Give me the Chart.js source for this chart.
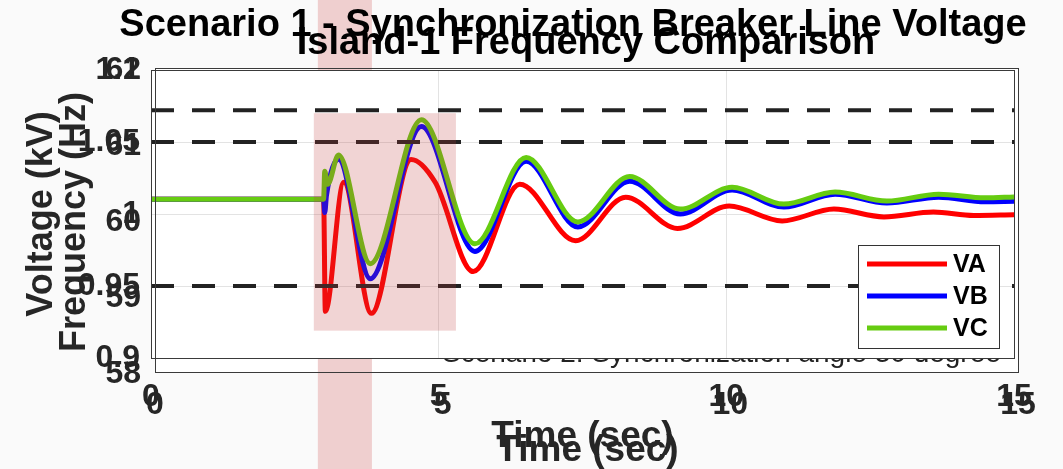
<!DOCTYPE html>
<html>
<head>
<meta charset="utf-8">
<script src="https://cdn.jsdelivr.net/npm/chart.js@4.4.1/dist/chart.umd.min.js"></script>
<style>
  html, body { margin: 0; padding: 0; background: #fafafa; }
  #wrap { width: 1063px; height: 469px; }
</style>
</head>
<body>
<div id="wrap"><canvas id="voltChart" width="1063" height="469"></canvas></div>
<script>
// ==========================
// DATA
// ==========================
const titleFront = 'Scenario 1 - Synchronization Breaker Line Voltage';
const titleBack = 'Island-1 Frequency Comparison';
const hiddenNote = 'Scenario 2: Synchronization angle 30 degree';

const timeVA = [0, 3.0, 3.03, 3.35, 3.83, 4.52, 4.94, 5.6, 6.41, 7.38, 8.25, 9.15, 10.05, 10.97, 11.87, 12.74, 13.6, 14.3, 15];
const voltVA = [1.0103, 1.0103, 0.9324, 1.022, 0.931, 1.0379, 1.022, 0.96, 1.0207, 0.9814, 1.0117, 0.99, 1.0055, 0.9952, 1.0034, 0.998, 1.0014, 0.999, 0.9995];

const timeVB = [0, 3.0, 3.02, 3.05, 3.26, 3.81, 4.70, 5.63, 6.52, 7.42, 8.32, 9.2, 10.1, 11.0, 11.89, 12.79, 13.69, 14.5, 15];
const voltVB = [1.0103, 1.0103, 1.001, 1.013, 1.038, 0.955, 1.0607, 0.974, 1.0366, 0.991, 1.0228, 1.0, 1.0166, 1.0048, 1.0138, 1.0076, 1.0117, 1.0085, 1.0088];

const timeVC = [0, 3.0, 3.02, 3.07, 3.26, 3.81, 4.70, 5.63, 6.52, 7.42, 8.32, 9.2, 10.1, 11.0, 11.89, 12.79, 13.69, 14.5, 15];
const voltVC = [1.0103, 1.0103, 1.0297, 1.0207, 1.041, 0.9655, 1.0655, 0.9793, 1.0393, 0.9945, 1.026, 1.0034, 1.0186, 1.0069, 1.0152, 1.009, 1.0138, 1.0112, 1.0118];

const limitLevels = [1.072, 1.05, 0.95];
const voltTicks = [0.9, 0.95, 1, 1.05, 1.1];
const voltTickLabels = ['0.9', '0.95', '1', '1.05', '1.1'];
const freqTickLabels = ['62', '61', '60', '59', '58'];
const timeTicks = [0, 5, 10, 15];
const highlightTime = [2.83, 5.3];
const highlightVolt = [0.919, 1.07];
const bandTime = [2.9, 3.84];

// ==========================
// HELPERS
// ==========================
const zip = (xs, ys) => xs.map((x, i) => ({ x, y: ys[i] }));
const FONT = "'Liberation Sans', Arial, Helvetica, sans-serif";
const INK = '#262626';
// frame of the frequency figure lying underneath
const backFrame = { left: 155, top: 68, right: 1018, bottom: 372 };

const line = (label, xs, ys, color, order) => ({
    label,
    data: zip(xs, ys),
    borderColor: color,
    borderWidth: 5,
    pointRadius: 0,
    cubicInterpolationMode: 'monotone',
    order
});

const limitSets = limitLevels.map(v => ({
    label: 'limit',
    data: zip([0, 15], [v, v]),
    borderColor: '#222',
    borderWidth: 4,
    borderDash: [23, 18],
    pointRadius: 0,
    order: -1
}));

// ==========================
// PLUGINS
// ==========================
const backdrop = {
    id: 'backdrop',
    beforeDraw(chart) {
        const { ctx, chartArea: a, scales: { x } } = chart;
        ctx.save();
        ctx.fillStyle = '#fafafa';
        ctx.fillRect(0, 0, chart.width, chart.height);
        ctx.fillStyle = '#fff';
        ctx.fillRect(backFrame.left, backFrame.top, backFrame.right - backFrame.left, backFrame.bottom - backFrame.top);
        const b0 = x.getPixelForValue(bandTime[0]);
        const b1 = x.getPixelForValue(bandTime[1]);
        ctx.fillStyle = '#efcfcf';
        ctx.fillRect(b0, 0, b1 - b0, chart.height);
        ctx.fillStyle = '#fff';
        ctx.fillRect(a.left, a.top, a.right - a.left, a.bottom - a.top);
        ctx.restore();
    },
    afterDatasetsDraw(chart) {
        const { ctx, scales: { x, y } } = chart;
        const x0 = x.getPixelForValue(highlightTime[0]);
        const x1 = x.getPixelForValue(highlightTime[1]);
        const y0 = y.getPixelForValue(highlightVolt[1]);
        const y1 = y.getPixelForValue(highlightVolt[0]);
        ctx.save();
        ctx.fillStyle = 'rgba(190, 60, 60, 0.22)';
        ctx.fillRect(x0, y0, x1 - x0, y1 - y0);
        ctx.restore();
    },
    afterDraw(chart) {
        const { ctx, chartArea: a } = chart;
        ctx.save();

        // hidden note peeking out between the two frames
        ctx.save();
        ctx.beginPath();
        ctx.rect(backFrame.left, a.bottom + 1, backFrame.right - backFrame.left, backFrame.bottom - a.bottom - 1);
        ctx.clip();
        ctx.fillStyle = '#222';
        ctx.font = `28px ${FONT}`;
        ctx.textAlign = 'left';
        ctx.textBaseline = 'alphabetic';
        ctx.fillText(hiddenNote, 442, 362);
        ctx.restore();

        // frames
        ctx.strokeStyle = '#3a3a3a';
        ctx.lineWidth = 1;
        ctx.strokeRect(a.left + 0.5, a.top + 0.5, a.right - a.left, a.bottom - a.top);
        ctx.strokeRect(backFrame.left + 0.5, backFrame.top + 0.5, backFrame.right - backFrame.left, backFrame.bottom - backFrame.top);

        // legend
        const lg = { left: 858, top: 245, right: 999, bottom: 348 };
        ctx.fillStyle = '#fff';
        ctx.fillRect(lg.left, lg.top, lg.right - lg.left, lg.bottom - lg.top);
        ctx.strokeStyle = '#333';
        ctx.strokeRect(lg.left + 0.5, lg.top + 0.5, lg.right - lg.left, lg.bottom - lg.top);
        const items = chart.data.datasets.filter(d => d.label !== 'limit');
        items.forEach((d, i) => {
            const yy = 264 + i * 32;
            ctx.strokeStyle = d.borderColor;
            ctx.lineWidth = 5;
            ctx.beginPath();
            ctx.moveTo(867, yy);
            ctx.lineTo(947, yy);
            ctx.stroke();
            ctx.fillStyle = '#000';
            ctx.font = `bold 25px ${FONT}`;
            ctx.textAlign = 'left';
            ctx.textBaseline = 'middle';
            ctx.fillText(d.label, 953, yy + 1);
        });

        // titles
        ctx.fillStyle = '#000';
        ctx.font = `bold 38px ${FONT}`;
        ctx.textAlign = 'center';
        ctx.textBaseline = 'alphabetic';
        ctx.fillText(titleFront, 573, 36);
        ctx.fillText(titleBack, 586, 54);

        // frequency figure axes underneath
        ctx.fillStyle = INK;
        ctx.font = `bold 32px ${FONT}`;
        ctx.textAlign = 'right';
        ctx.textBaseline = 'middle';
        const fStep = (backFrame.bottom - backFrame.top) / (freqTickLabels.length - 1);
        freqTickLabels.forEach((t, i) => ctx.fillText(t, 141, backFrame.top + 2 + i * fStep));

        ctx.textAlign = 'center';
        const tStep = (backFrame.right - backFrame.left) / (timeTicks.length - 1);
        timeTicks.forEach((t, i) => ctx.fillText(String(t), backFrame.left + i * tStep, 405));

        ctx.font = `bold 37px ${FONT}`;
        ctx.fillText('Time (sec)', (a.left + a.right) / 2 + 5, 451);

        ctx.font = `bold 36px ${FONT}`;
        ctx.translate(75, 222);
        ctx.rotate(-Math.PI / 2);
        ctx.fillText('Frequency (Hz)', 0, 0);
        ctx.restore();
    }
};

// ==========================
// CHART
// ==========================
document.addEventListener('DOMContentLoaded', () => {
    const canvas = document.getElementById('voltChart');

    new Chart(canvas, {
        type: 'line',
        data: {
            datasets: [
                line('VA', timeVA, voltVA, '#ff0000', 2),
                line('VB', timeVB, voltVB, '#0000ff', 1),
                line('VC', timeVC, voltVC, '#66cc11', 0),
                ...limitSets
            ]
        },
        options: {
            responsive: false,
            animation: false,
            devicePixelRatio: 1,
            layout: { padding: { top: 70, right: 49, bottom: 0, left: 0 } },
            plugins: {
                legend: { display: false },
                title: { display: false },
                tooltip: { enabled: false }
            },
            scales: {
                x: {
                    type: 'linear',
                    min: 0,
                    max: 15,
                    afterBuildTicks: s => { s.ticks = timeTicks.map(v => ({ value: v })); },
                    afterFit: s => { s.height = 111; },
                    grid: { color: '#e3e3e3', drawTicks: false },
                    border: { display: false },
                    ticks: {
                        color: INK,
                        padding: 20,
                        maxRotation: 0,
                        font: { family: FONT, size: 32, weight: 'bold' },
                        callback: v => String(v)
                    },
                    title: {
                        display: true,
                        text: 'Time (sec)',
                        color: INK,
                        padding: { top: 0, bottom: 10 },
                        font: { family: FONT, size: 37, weight: 'bold' }
                    }
                },
                y: {
                    min: 0.9,
                    max: 1.1,
                    afterBuildTicks: s => { s.ticks = voltTicks.map(v => ({ value: v })); },
                    afterFit: s => { s.width = 151; },
                    grid: { color: '#e3e3e3', drawTicks: false },
                    border: { display: false },
                    ticks: {
                        color: INK,
                        padding: 11,
                        font: { family: FONT, size: 32, weight: 'bold' },
                        callback: (v, i) => voltTickLabels[i]
                    },
                    title: {
                        display: true,
                        text: 'Voltage (kV)',
                        color: INK,
                        padding: { top: 20, bottom: 0 },
                        font: { family: FONT, size: 36, weight: 'bold' }
                    }
                }
            }
        },
        plugins: [backdrop]
    });
});
</script>
</body>
</html>
